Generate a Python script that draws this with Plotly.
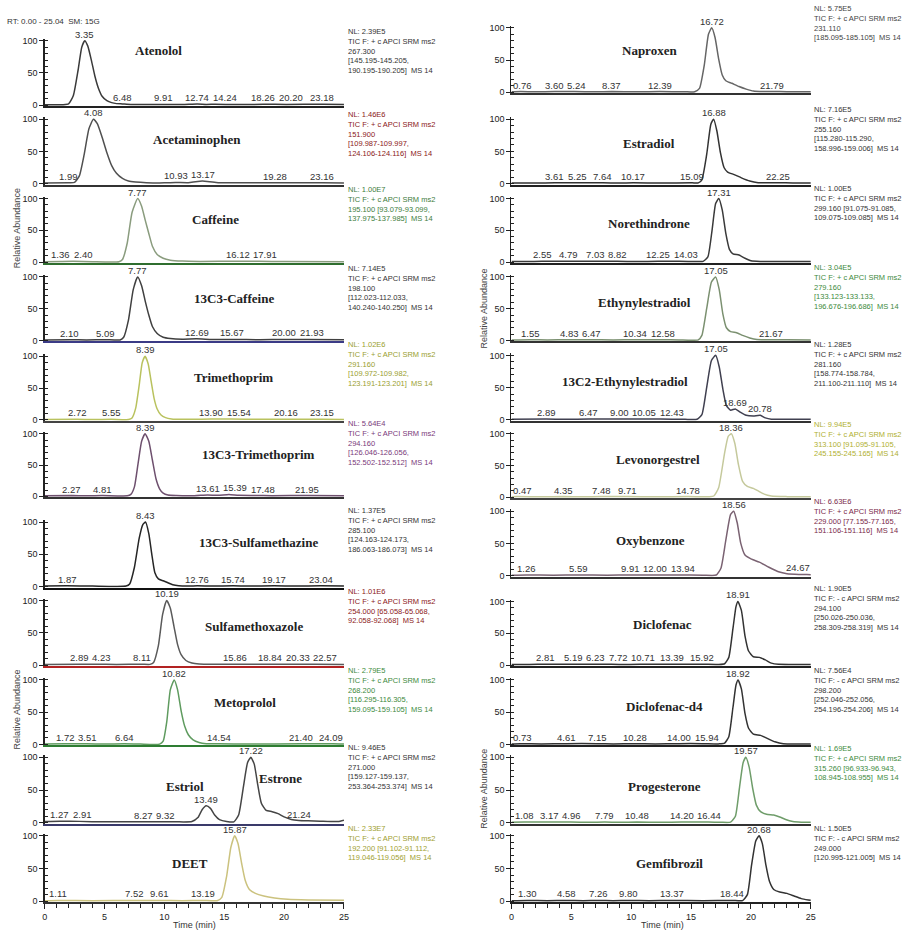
import numpy as np
import plotly.graph_objects as go

# ---------------------------------------------------------------- data
# Left column ---------------------------------------------------------
L1_NAME = ["Atenolol"]
L1_T = [0, 1.5, 2.0, 2.4, 2.8, 3.1, 3.35, 3.6, 3.9, 4.2, 4.5, 4.8, 5.2, 5.6, 6.0, 6.48, 7.2, 9.91, 11.5, 12.74, 13.5, 14.24, 16, 18.26, 20.2, 23.18, 25]
L1_I = [0.8, 0.8, 2, 15, 55, 90, 100, 92, 70, 45, 26, 14, 7, 4, 2.5, 2, 1.2, 1.2, 1, 1.8, 1.2, 1.5, 1, 1.4, 1.3, 1.4, 1]
L1_PEAKS = ["3.35", "6.48", "9.91", "12.74", "14.24", "18.26", "20.20", "23.18"]
L1_INFO = ["NL: 2.39E5", "TIC F: + c APCI SRM ms2", "267.300", "[145.195-145.205,", "190.195-190.205]  MS 14"]

L2_NAME = ["Acetaminophen"]
L2_T = [0, 1.99, 2.5, 2.9, 3.3, 3.7, 4.08, 4.4, 4.8, 5.2, 5.6, 6.0, 6.5, 7.0, 7.6, 8.5, 10.0, 10.93, 12.0, 12.6, 13.17, 13.8, 14.5, 16, 19.28, 21, 23.16, 25]
L2_I = [0.8, 1.5, 2, 12, 45, 85, 100, 93, 72, 48, 28, 16, 8, 4, 2.5, 1.5, 1.2, 1.8, 1.5, 3, 4, 3, 1.5, 1.2, 1.5, 1.2, 1.4, 1]
L2_PEAKS = ["1.99", "4.08", "10.93", "13.17", "19.28", "23.16"]
L2_INFO = ["NL: 1.46E6", "TIC F: + c APCI SRM ms2", "151.900", "[109.987-109.997,", "124.106-124.116]  MS 14"]

L3_NAME = ["Caffeine"]
L3_T = [0, 1.36, 2.4, 4, 6.2, 6.5, 6.9, 7.3, 7.77, 8.1, 8.4, 8.7, 9.0, 9.4, 9.9, 10.5, 11.5, 13, 16.12, 17.91, 20, 25]
L3_I = [0.5, 1, 1.2, 0.5, 0.5, 4, 30, 78, 100, 88, 66, 45, 25, 12, 6, 3, 1.5, 1, 1.2, 1.2, 0.8, 0.5]
L3_PEAKS = ["1.36", "2.40", "7.77", "16.12", "17.91"]
L3_INFO = ["NL: 1.00E7", "TIC F: + c APCI SRM ms2", "195.100 [93.079-93.099,", "137.975-137.985]  MS 14"]

L4_NAME = ["13C3-Caffeine"]
L4_T = [0, 2.1, 3.5, 5.09, 6.3, 6.6, 7.0, 7.4, 7.77, 8.1, 8.4, 8.7, 9.0, 9.4, 9.9, 10.5, 11.5, 12.69, 14, 15.67, 18, 20.0, 21.93, 25]
L4_I = [0.8, 1.2, 0.8, 1.2, 0.8, 5, 32, 80, 100, 86, 62, 40, 22, 11, 5, 3, 2, 2.5, 1.5, 1.5, 1.2, 1.5, 1.5, 1]
L4_PEAKS = ["2.10", "5.09", "7.77", "12.69", "15.67", "20.00", "21.93"]
L4_INFO = ["NL: 7.14E5", "TIC F: + c APCI SRM ms2", "198.100", "[112.023-112.033,", "140.240-140.250]  MS 14"]

L5_NAME = ["Trimethoprim"]
L5_T = [0, 2.72, 4, 5.55, 7.0, 7.3, 7.6, 7.9, 8.15, 8.39, 8.65, 8.9, 9.15, 9.4, 9.7, 10.1, 10.6, 11.5, 13.9, 15.54, 18, 20.16, 23.15, 25]
L5_I = [0.5, 1, 0.5, 1, 0.5, 3, 18, 55, 90, 100, 88, 60, 33, 17, 8, 3.5, 1.5, 0.8, 1.2, 1.2, 0.8, 1, 1, 0.5]
L5_PEAKS = ["2.72", "5.55", "8.39", "13.90", "15.54", "20.16", "23.15"]
L5_INFO = ["NL: 1.02E6", "TIC F: + c APCI SRM ms2", "291.160", "[109.972-109.982,", "123.191-123.201]  MS 14"]

L6_NAME = ["13C3-Trimethoprim"]
L6_T = [0, 2.27, 3.5, 4.81, 6.9, 7.2, 7.5, 7.8, 8.1, 8.39, 8.7, 9.0, 9.3, 9.6, 9.9, 10.3, 11, 12.5, 13.61, 14.5, 15.39, 16.2, 17.48, 19, 21.95, 25]
L6_I = [0.8, 1.2, 0.8, 1.2, 0.8, 3, 15, 52, 88, 100, 88, 58, 28, 12, 5, 2, 1.2, 1, 2, 1.5, 3, 1.5, 1.2, 1, 1.2, 0.8]
L6_PEAKS = ["2.27", "4.81", "8.39", "13.61", "15.39", "17.48", "21.95"]
L6_INFO = ["NL: 5.64E4", "TIC F: + c APCI SRM ms2", "294.160", "[126.046-126.056,", "152.502-152.512]  MS 14"]

L7_NAME = ["13C3-Sulfamethazine"]
L7_T = [0, 1.87, 4, 6.8, 7.1, 7.5, 7.9, 8.2, 8.43, 8.7, 8.95, 9.2, 9.5, 9.9, 10.3, 10.7, 11.2, 12, 12.76, 14, 15.74, 17, 19.17, 21, 23.04, 25]
L7_I = [0.8, 1.2, 0.8, 0.8, 4, 30, 75, 96, 100, 82, 50, 22, 12, 9, 6, 3, 1.5, 1, 1.2, 1, 1.2, 1, 1.2, 1, 1.2, 0.8]
L7_PEAKS = ["1.87", "8.43", "12.76", "15.74", "19.17", "23.04"]
L7_INFO = ["NL: 1.37E5", "TIC F: + c APCI SRM ms2", "285.100", "[124.163-124.173,", "186.063-186.073]  MS 14"]

L8_NAME = ["Sulfamethoxazole"]
L8_T = [0, 2.89, 4.23, 6, 8.11, 8.8, 9.1, 9.5, 9.85, 10.19, 10.5, 10.8, 11.1, 11.4, 11.8, 12.3, 12.9, 14, 15.86, 17, 18.84, 20.33, 22.57, 25]
L8_I = [0.8, 1.2, 1.2, 0.8, 1.2, 1, 4, 30, 78, 100, 88, 60, 32, 16, 7, 3, 1.5, 1, 1.2, 1, 1.2, 1.2, 1.2, 0.8]
L8_PEAKS = ["2.89", "4.23", "8.11", "10.19", "15.86", "18.84", "20.33", "22.57"]
L8_INFO = ["NL: 1.01E6", "TIC F: + c APCI SRM ms2", "254.000 [65.058-65.068,", "92.058-92.068]  MS 14"]

L9_NAME = ["Metoprolol"]
L9_T = [0, 1.72, 3.51, 5, 6.64, 8, 9.6, 9.9, 10.2, 10.5, 10.82, 11.1, 11.4, 11.7, 12.0, 12.4, 12.9, 13.5, 14.54, 17, 21.4, 24.09, 25]
L9_I = [0.5, 1, 1, 0.5, 1, 0.5, 0.5, 5, 35, 85, 100, 85, 52, 28, 15, 7, 3, 1.2, 1, 0.6, 1, 1, 0.5]
L9_PEAKS = ["1.72", "3.51", "6.64", "10.82", "14.54", "21.40", "24.09"]
L9_INFO = ["NL: 2.79E5", "TIC F: + c APCI SRM ms2", "268.200", "[116.295-116.305,", "159.095-159.105]  MS 14"]

L10_NAME = ["Estriol", "Estrone"]
L10_T = [0, 1.27, 2.91, 5, 8.27, 9.32, 11, 12.3, 12.8, 13.15, 13.49, 13.85, 14.2, 14.6, 15.2, 15.8, 16.2, 16.6, 16.95, 17.22, 17.5, 17.8, 18.1, 18.5, 19.0, 19.5, 20.0, 20.6, 21.24, 22, 23, 24.5, 25]
L10_I = [2, 2.5, 2.2, 1.5, 1.8, 1.8, 1.5, 2, 8, 20, 26, 22, 12, 5, 2, 1.5, 12, 55, 92, 100, 90, 58, 30, 19, 17, 14, 9, 5, 3.5, 3, 2.5, 2, 4]
L10_PEAKS = ["1.27", "2.91", "8.27", "9.32", "13.49", "17.22", "21.24"]
L10_INFO = ["NL: 9.46E5", "TIC F: + c APCI SRM ms2", "271.000", "[159.127-159.137,", "253.364-253.374]  MS 14"]

L11_NAME = ["DEET"]
L11_T = [0, 1.11, 4, 7.52, 9.61, 11.5, 13.19, 14.4, 14.8, 15.2, 15.55, 15.87, 16.15, 16.45, 16.75, 17.1, 17.6, 18.3, 19.2, 20.3, 22, 25]
L11_I = [0.8, 1.2, 0.8, 1.2, 1.2, 0.8, 1.2, 0.8, 6, 38, 82, 100, 88, 58, 32, 18, 12, 8, 5, 3, 2, 1.5]
L11_PEAKS = ["1.11", "7.52", "9.61", "13.19", "15.87"]
L11_INFO = ["NL: 2.33E7", "TIC F: + c APCI SRM ms2", "192.200 [91.102-91.112,", "119.046-119.056]  MS 14"]

# Right column --------------------------------------------------------
R1_NAME = ["Naproxen"]
R1_T = [0, 0.76, 2, 3.6, 5.24, 7, 8.37, 10.5, 12.39, 14.5, 15.3, 15.7, 16.1, 16.45, 16.72, 17.0, 17.3, 17.6, 17.9, 18.4, 19.0, 19.6, 20.2, 21.0, 21.79, 23, 25]
R1_I = [0.8, 1.2, 0.8, 1.2, 1.2, 0.8, 1.2, 0.8, 1.2, 0.8, 1, 6, 42, 90, 100, 85, 52, 27, 18, 14, 9, 5, 2, 1.2, 1.2, 1, 0.8]
R1_PEAKS = ["0.76", "3.60", "5.24", "8.37", "12.39", "16.72", "21.79"]
R1_INFO = ["NL: 5.75E5", "TIC F: + c APCI SRM ms2", "231.110", "[185.095-185.105]  MS 14"]

R2_NAME = ["Estradiol"]
R2_T = [0, 2, 3.61, 5.25, 7.64, 9, 10.17, 12.5, 15.09, 15.6, 15.9, 16.3, 16.65, 16.88, 17.15, 17.45, 17.75, 18.05, 18.6, 19.2, 19.9, 20.6, 21.5, 22.25, 23.5, 25]
R2_I = [0.8, 0.8, 1.2, 1.2, 1.2, 0.8, 1.2, 0.8, 1.2, 1.2, 6, 45, 92, 100, 82, 48, 25, 18, 14, 9, 4, 1.5, 1.2, 1.4, 1, 0.8]
R2_PEAKS = ["3.61", "5.25", "7.64", "10.17", "15.09", "16.88", "22.25"]
R2_INFO = ["NL: 7.16E5", "TIC F: + c APCI SRM ms2", "255.160", "[115.280-115.290,", "158.996-159.006]  MS 14"]

R3_NAME = ["Norethindrone"]
R3_T = [0, 1.2, 2.55, 4.79, 7.03, 8.82, 10.5, 12.25, 14.03, 15.5, 16.0, 16.4, 16.75, 17.05, 17.31, 17.6, 17.9, 18.2, 18.5, 19.0, 19.5, 20.0, 20.8, 22, 25]
R3_I = [0.8, 0.8, 1.2, 1.2, 1.2, 1.2, 0.8, 1.2, 1.2, 0.8, 1, 8, 50, 92, 100, 82, 45, 20, 13, 11, 6, 2, 1, 0.8, 0.8]
R3_PEAKS = ["2.55", "4.79", "7.03", "8.82", "12.25", "14.03", "17.31"]
R3_INFO = ["NL: 1.00E5", "TIC F: + c APCI SRM ms2", "299.160 [91.075-91.085,", "109.075-109.085]  MS 14"]

R4_NAME = ["Ethynylestradiol"]
R4_T = [0, 1.55, 3, 4.83, 6.47, 8.5, 10.34, 12.58, 14, 15.6, 15.9, 16.3, 16.7, 17.05, 17.35, 17.65, 17.95, 18.3, 18.8, 19.3, 19.9, 20.5, 21.2, 21.67, 23, 25]
R4_I = [0.8, 1.2, 0.8, 1.2, 1.2, 0.8, 1.2, 1.2, 0.8, 1, 8, 50, 92, 100, 80, 42, 20, 14, 12, 8, 4, 1.5, 1.2, 1.3, 1, 0.8]
R4_PEAKS = ["1.55", "4.83", "6.47", "10.34", "12.58", "17.05", "21.67"]
R4_INFO = ["NL: 3.04E5", "TIC F: + c APCI SRM ms2", "279.160", "[133.123-133.133,", "196.676-196.686]  MS 14"]

R5_NAME = ["13C2-Ethynylestradiol"]
R5_T = [0, 2.89, 4.5, 6.47, 9.0, 10.05, 12.43, 14.5, 15.5, 15.9, 16.3, 16.7, 17.05, 17.35, 17.65, 17.95, 18.3, 18.69, 19.1, 19.6, 20.2, 20.78, 21.2, 21.7, 23, 25]
R5_I = [0.8, 1.2, 0.8, 1.2, 1.2, 1.2, 1.2, 0.8, 1, 8, 50, 92, 100, 82, 48, 22, 15, 17, 12, 7, 6, 7, 3, 1, 1, 0.8]
R5_PEAKS = ["2.89", "6.47", "9.00", "10.05", "12.43", "17.05", "18.69", "20.78"]
R5_INFO = ["NL: 1.28E5", "TIC F: + c APCI SRM ms2", "281.160", "[158.774-158.784,", "211.100-211.110]  MS 14"]

R6_NAME = ["Levonorgestrel"]
R6_T = [0, 0.47, 2.5, 4.35, 6, 7.48, 9.71, 12, 14.78, 16.5, 16.9, 17.3, 17.8, 18.1, 18.36, 18.65, 18.95, 19.3, 19.7, 20.2, 20.6, 21.1, 21.7, 23, 25]
R6_I = [1, 1.2, 0.8, 1.2, 0.8, 1.2, 1.2, 0.8, 1.2, 0.8, 2, 15, 70, 96, 100, 85, 52, 25, 17, 14, 10, 5, 2, 1, 0.8]
R6_PEAKS = ["0.47", "4.35", "7.48", "9.71", "14.78", "18.36"]
R6_INFO = ["NL: 9.94E5", "TIC F: + c APCI SRM ms2", "313.100 [91.095-91.105,", "245.155-245.165]  MS 14"]

R7_NAME = ["Oxybenzone"]
R7_T = [0, 1.26, 3.5, 5.59, 8, 9.91, 12.0, 13.94, 16, 17.1, 17.5, 17.9, 18.3, 18.56, 18.85, 19.15, 19.5, 20.0, 20.7, 21.5, 22.3, 23.0, 24.0, 24.67, 25]
R7_I = [0.8, 1.2, 0.8, 1.2, 0.8, 1.2, 1.2, 1.2, 0.8, 1, 12, 55, 95, 100, 82, 50, 32, 26, 21, 13, 6, 3, 2, 2, 1.5]
R7_PEAKS = ["1.26", "5.59", "9.91", "12.00", "13.94", "18.56", "24.67"]
R7_INFO = ["NL: 6.63E6", "TIC F: + c APCI SRM ms2", "229.000 [77.155-77.165,", "151.106-151.116]  MS 14"]

R8_NAME = ["Diclofenac"]
R8_T = [0, 1.5, 2.81, 5.19, 6.23, 7.72, 9, 10.71, 13.39, 15.92, 17.3, 17.8, 18.15, 18.5, 18.75, 18.91, 19.2, 19.5, 19.8, 20.2, 20.7, 21.2, 21.7, 22.3, 23.5, 25]
R8_I = [0.8, 0.8, 1.2, 1.2, 1.2, 1.2, 0.8, 1.2, 1.2, 1.2, 0.8, 2, 12, 58, 92, 100, 86, 46, 22, 13, 12, 8, 3, 1, 0.8, 0.8]
R8_PEAKS = ["2.81", "5.19", "6.23", "7.72", "10.71", "13.39", "15.92", "18.91"]
R8_INFO = ["NL: 1.90E5", "TIC F: - c APCI SRM ms2", "294.100", "[250.026-250.036,", "258.309-258.319]  MS 14"]

R9_NAME = ["Diclofenac-d4"]
R9_T = [0, 0.73, 2.5, 4.61, 7.15, 8.5, 10.28, 12, 14.0, 15.94, 17.3, 17.8, 18.15, 18.5, 18.75, 18.92, 19.2, 19.5, 19.8, 20.2, 20.8, 21.4, 22.0, 22.7, 25]
R9_I = [0.8, 1.2, 0.8, 1.2, 1.2, 0.8, 1.2, 0.8, 1.2, 1.2, 0.8, 2, 12, 58, 92, 100, 86, 48, 25, 16, 14, 9, 4, 1, 0.8]
R9_PEAKS = ["0.73", "4.61", "7.15", "10.28", "14.00", "15.94", "18.92"]
R9_INFO = ["NL: 7.56E4", "TIC F: - c APCI SRM ms2", "298.200", "[252.046-252.056,", "254.196-254.206]  MS 14"]

R10_NAME = ["Progesterone"]
R10_T = [0, 1.08, 3.17, 4.96, 6.5, 7.79, 9, 10.48, 12.5, 14.2, 16.44, 17.5, 18.3, 18.7, 19.05, 19.35, 19.57, 19.85, 20.15, 20.45, 20.8, 21.3, 21.9, 22.4, 22.9, 23.5, 24.2, 25]
R10_I = [0.8, 1.2, 1.2, 1.2, 0.8, 1.2, 0.8, 1.2, 0.8, 1.2, 1.2, 0.8, 1, 10, 55, 92, 100, 85, 52, 27, 17, 13, 12, 9, 5, 2, 1, 0.8]
R10_PEAKS = ["1.08", "3.17", "4.96", "7.79", "10.48", "14.20", "16.44", "19.57"]
R10_INFO = ["NL: 1.69E5", "TIC F: + c APCI SRM ms2", "315.260 [96.933-96.943,", "108.945-108.955]  MS 14"]

R11_NAME = ["Gemfibrozil"]
R11_T = [0, 1.3, 3, 4.58, 6, 7.26, 8.5, 9.8, 11.5, 13.37, 16, 18.44, 19.3, 19.7, 20.05, 20.4, 20.68, 20.95, 21.25, 21.55, 21.9, 22.4, 23.0, 23.6, 24.2, 24.8, 25]
R11_I = [0.8, 1.2, 0.8, 1.2, 0.8, 1.2, 0.8, 1.2, 0.8, 1.2, 0.8, 1.2, 1, 10, 55, 92, 100, 88, 55, 30, 18, 14, 12, 8, 4, 2, 1.5]
R11_PEAKS = ["1.30", "4.58", "7.26", "9.80", "13.37", "18.44", "20.68"]
R11_INFO = ["NL: 1.50E5", "TIC F: - c APCI SRM ms2", "249.000", "[120.995-121.005]  MS 14"]

X_TICKS = [0, 5, 10, 15, 20, 25]
Y_TICKS = [0, 50, 100]

LEFT = [(L1_NAME, L1_T, L1_I, L1_PEAKS, L1_INFO), (L2_NAME, L2_T, L2_I, L2_PEAKS, L2_INFO),
        (L3_NAME, L3_T, L3_I, L3_PEAKS, L3_INFO), (L4_NAME, L4_T, L4_I, L4_PEAKS, L4_INFO),
        (L5_NAME, L5_T, L5_I, L5_PEAKS, L5_INFO), (L6_NAME, L6_T, L6_I, L6_PEAKS, L6_INFO),
        (L7_NAME, L7_T, L7_I, L7_PEAKS, L7_INFO), (L8_NAME, L8_T, L8_I, L8_PEAKS, L8_INFO),
        (L9_NAME, L9_T, L9_I, L9_PEAKS, L9_INFO), (L10_NAME, L10_T, L10_I, L10_PEAKS, L10_INFO),
        (L11_NAME, L11_T, L11_I, L11_PEAKS, L11_INFO)]
RIGHT = [(R1_NAME, R1_T, R1_I, R1_PEAKS, R1_INFO), (R2_NAME, R2_T, R2_I, R2_PEAKS, R2_INFO),
         (R3_NAME, R3_T, R3_I, R3_PEAKS, R3_INFO), (R4_NAME, R4_T, R4_I, R4_PEAKS, R4_INFO),
         (R5_NAME, R5_T, R5_I, R5_PEAKS, R5_INFO), (R6_NAME, R6_T, R6_I, R6_PEAKS, R6_INFO),
         (R7_NAME, R7_T, R7_I, R7_PEAKS, R7_INFO), (R8_NAME, R8_T, R8_I, R8_PEAKS, R8_INFO),
         (R9_NAME, R9_T, R9_I, R9_PEAKS, R9_INFO), (R10_NAME, R10_T, R10_I, R10_PEAKS, R10_INFO),
         (R11_NAME, R11_T, R11_I, R11_PEAKS, R11_INFO)]

# ---------------------------------------------------------------- layout / style
W, H = 910, 935
COL_X = [(42, 344), (513, 815)]          # pixel span of the time axis in each column
INFO_X = [347, 817]
Y100 = [[38, 117, 197, 276, 356, 434, 523, 602, 682, 760, 839],
        [25, 117, 197, 276, 355, 434, 512, 603, 682, 760, 839]]
Y0 = [[103, 182, 261, 340, 420, 497, 588, 667, 747, 826, 905],
      [90, 182, 261, 340, 420, 498, 577, 667, 747, 826, 905]]
INFO_TOP = [[23, 107, 182, 262, 339, 418, 506, 587, 667, 745, 826],
            [0, 102, 181, 261, 339, 419, 497, 584, 667, 746, 826]]
NAME_POS = [[[(9.5, 85)], [(12.7, 68)], [(14.3, 67)], [(15.8, 66)], [(15.8, 67)], [(17.9, 67)],
             [(17.9, 69)], [(17.5, 60)], [(16.7, 65)], [(11.7, 55), (19.7, 67)], [(12.1, 58)]],
            [[(11.5, 65)], [(11.5, 62)], [(11.5, 61)], [(11.1, 59)], [(9.5, 60)], [(12.2, 60)],
             [(11.6, 55)], [(12.6, 63)], [(12.8, 59)], [(12.8, 56)], [(13.2, 58)]]]
TRACE_COL = [['#3a3a3a', '#505050', '#8a9c7e', '#404040', '#b9c25e', '#6e506e', '#262626', '#5a5a5a',
              '#5f9b5f', '#454545', '#cbc27e'],
             ['#666666', '#333333', '#3a3a3a', '#7b9070', '#404050', '#c5c99c', '#7a6272', '#333333',
              '#333333', '#6f9d6a', '#333333']]
BASE_COL = [['#222', '#333', '#2f6e2f', '#3b3b86', '#444', '#333', '#111', '#b22222', '#2e7d32', '#3a3a6a', '#333'],
            ['#333', '#222', '#222', '#333', '#333', '#444', '#333', '#222', '#222', '#333', '#222']]
INFO_COL = [['#333', '#8b2020', '#3d7d3d', '#333', '#9aa030', '#7a3a7a', '#333', '#8b2020', '#3d8a3d', '#333', '#a0a030'],
            ['#444', '#333', '#333', '#3d8a3d', '#333', '#b0b030', '#7a2a4a', '#333', '#333', '#3d8a3d', '#333']]

YMIN, YMAX = -1.5, 103
SANS = "Liberation Sans, Arial, sans-serif"
SERIF = "Liberation Serif, Times New Roman, serif"
LBL_SIZE = 9.5
PX_PER_MIN = (COL_X[0][1] - COL_X[0][0]) / 25.0


def label_width(s):
    return sum(0.556 if c.isdigit() else 0.278 for c in s) * LBL_SIZE / PX_PER_MIN


def place_labels(peaks, t, inten):
    items = []
    for s in peaks:
        v = float(s)
        items.append({"s": s, "t": v, "y": float(np.interp(v, t, inten)), "x": v})
    low = sorted([it for it in items if it["y"] < 12], key=lambda d: d["t"])
    gap = 4 / PX_PER_MIN
    prev = None
    for it in low:
        w = label_width(it["s"])
        x = max(it["t"], w / 2 + 0.15)
        if prev is not None:
            x = max(x, prev["x"] + (label_width(prev["s"]) + w) / 2 + gap)
        it["x"] = x
        prev = it
    nxt = None
    for it in reversed(low):
        w = label_width(it["s"])
        x = min(it["x"], 25 - w / 2 - 0.1)
        if nxt is not None:
            x = min(x, nxt["x"] - (label_width(nxt["s"]) + w) / 2 - gap)
        it["x"] = x
        nxt = it
    return items


fig = go.Figure()
annotations = []
layout = {}

k = 0
for c, panels in enumerate([LEFT, RIGHT]):
    x0p, x1p = COL_X[c]
    for r, (names, t, inten, peaks, info) in enumerate(panels):
        k += 1
        sx = "" if k == 1 else str(k)
        y100, y0 = Y100[c][r], Y0[c][r]
        ppu = (y0 - y100) / 100.0
        top_px = y100 - (YMAX - 100) * ppu
        bot_px = y0 - YMIN * ppu
        bottom = (r == len(panels) - 1)

        xa = dict(domain=[x0p / W, x1p / W], range=[0, 25], anchor="y" + sx,
                  showline=True, linecolor=BASE_COL[c][r], linewidth=2, showgrid=False,
                  zeroline=False, fixedrange=True)
        if bottom:
            xa.update(tickmode="array", tickvals=X_TICKS, ticks="outside", ticklen=5, tickwidth=1,
                      tickcolor="#222", showticklabels=True,
                      tickfont=dict(family=SANS, size=9, color="#222"),
                      minor=dict(ticks="outside", dtick=1, tick0=0, ticklen=4, tickwidth=1,
                                 tickcolor="#222", showgrid=False))
        else:
            xa.update(ticks="", showticklabels=False)
        ya = dict(domain=[1 - bot_px / H, 1 - top_px / H], range=[YMIN, YMAX], anchor="x" + sx,
                  tickmode="array", tickvals=Y_TICKS, ticks="outside", ticklen=4, tickwidth=1,
                  tickcolor="#222", showline=True, linecolor="#222", linewidth=1.2,
                  showgrid=False, zeroline=False, fixedrange=True,
                  tickfont=dict(family=SANS, size=9, color="#222"),
                  minor=dict(ticks="inside", dtick=10, tick0=0, ticklen=3, tickwidth=1,
                             tickcolor="#222", showgrid=False))
        layout["xaxis" + sx] = xa
        layout["yaxis" + sx] = ya

        fig.add_trace(go.Scatter(x=t, y=inten, mode="lines", xaxis="x" + sx, yaxis="y" + sx,
                                 line=dict(color=TRACE_COL[c][r], width=1.5, shape="spline",
                                           smoothing=0.5),
                                 hoverinfo="skip", showlegend=False))

        for it in place_labels(peaks, t, inten):
            annotations.append(dict(x=it["x"], y=it["y"], xref="x" + sx, yref="y" + sx,
                                    text=it["s"], showarrow=False, yanchor="bottom",
                                    xanchor="center", yshift=-1,
                                    font=dict(family=SANS, size=LBL_SIZE, color="#333")))

        for nm, (nx, ny) in zip(names, NAME_POS[c][r]):
            annotations.append(dict(x=nx, y=ny, xref="x" + sx, yref="y" + sx, text="<b>" + nm + "</b>",
                                    showarrow=False, xanchor="center", yanchor="middle",
                                    font=dict(family=SERIF, size=13, color="#222")))

        annotations.append(dict(x=INFO_X[c] / W, y=1 - INFO_TOP[c][r] / H, xref="paper", yref="paper",
                                text="<br>".join(info), showarrow=False, xanchor="left",
                                yanchor="top", align="left", borderpad=0,
                                font=dict(family=SANS, size=7.5, color=INFO_COL[c][r])))

# static texts
annotations.append(dict(x=2 / W, y=1 - 19 / H, xref="paper", yref="paper",
                        text="RT: 0.00 - 25.04  SM: 15G", showarrow=False, xanchor="left",
                        yanchor="middle", font=dict(family=SANS, size=8, color="#333")))
for (px, py) in [(14, 227), (14, 712), (485, 308), (485, 792)]:
    annotations.append(dict(x=px / W, y=1 - py / H, xref="paper", yref="paper",
                            text="Relative Abundance", textangle=-90, showarrow=False,
                            xanchor="center", yanchor="middle",
                            font=dict(family=SANS, size=9, color="#444")))
for px in [193, 665]:
    annotations.append(dict(x=px / W, y=1 - 929 / H, xref="paper", yref="paper",
                            text="Time (min)", showarrow=False, xanchor="center",
                            yanchor="middle", font=dict(family=SANS, size=9, color="#333")))

fig.update_layout(width=W, height=H, autosize=False, margin=dict(l=0, r=0, t=0, b=0),
                  paper_bgcolor="white", plot_bgcolor="white", showlegend=False,
                  annotations=annotations, **layout)

fig.write_html("out.html", config={"displayModeBar": False, "staticPlot": True},
               post_script="document.body.style.margin='0';document.body.style.padding='0';"
                           "document.body.style.overflow='hidden';")
